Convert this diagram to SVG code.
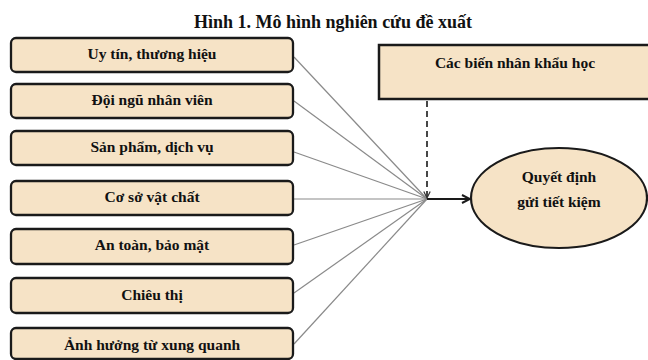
<svg xmlns="http://www.w3.org/2000/svg" width="648" height="360" viewBox="0 0 648 360">
<style>
text{font-family:"Liberation Serif","Times New Roman",serif;font-weight:bold;fill:#111;text-anchor:middle}
.title{font-size:18px}
.lbl{font-size:15.5px}
.box{fill:#F6E3C6;stroke:#1a1a1a;stroke-width:2.3}
.ln{stroke:#8a8a8a;stroke-width:1.2;fill:none}
</style>
<defs>
<marker id="arr" viewBox="0 0 10 10" refX="9" refY="5" markerWidth="10" markerHeight="10" markerUnits="userSpaceOnUse" orient="auto">
<path d="M1,1 L9,5 L1,9" fill="none" stroke="#1a1a1a" stroke-width="2"/>
</marker>
<marker id="arrd" viewBox="0 0 10 10" refX="9" refY="5" markerWidth="8" markerHeight="8" markerUnits="userSpaceOnUse" orient="auto">
<path d="M1,1 L9,5 L1,9" fill="none" stroke="#333" stroke-width="1.5"/>
</marker>
</defs>
<text class="title" x="333" y="28">Hình 1. Mô hình nghiên cứu đề xuất</text>
<g id="connectors">
<line class="ln" x1="294" y1="57" x2="427" y2="199"/>
<line class="ln" x1="294" y1="101" x2="427" y2="199"/>
<line class="ln" x1="294" y1="152" x2="427" y2="199"/>
<line class="ln" x1="294" y1="199" x2="427" y2="199"/>
<line class="ln" x1="294" y1="245" x2="427" y2="199"/>
<line class="ln" x1="294" y1="293" x2="427" y2="199"/>
<line class="ln" x1="294" y1="344" x2="427" y2="199"/>
<line x1="427" y1="101" x2="427" y2="198" stroke="#333" stroke-width="1.8" stroke-dasharray="6,4" marker-end="url(#arrd)"/>
<line x1="427" y1="199" x2="470" y2="199" stroke="#1a1a1a" stroke-width="2" marker-end="url(#arr)"/>
</g>
<g id="n1"><rect class="box" x="11" y="38" width="282" height="34" rx="5"/><text class="lbl" x="152" y="59">Uy tín, thương hiệu</text></g>
<g id="n2"><rect class="box" x="11" y="84" width="282" height="34" rx="5"/><text class="lbl" x="152" y="105">Đội ngũ nhân viên</text></g>
<g id="n3"><rect class="box" x="11" y="131" width="282" height="34" rx="5"/><text class="lbl" x="152" y="152">Sản phẩm, dịch vụ</text></g>
<g id="n4"><rect class="box" x="11" y="181" width="282" height="34" rx="5"/><text class="lbl" x="152" y="202">Cơ sở vật chất</text></g>
<g id="n5"><rect class="box" x="11" y="229" width="282" height="35" rx="5"/><text class="lbl" x="152" y="250">An toàn, bảo mật</text></g>
<g id="n6"><rect class="box" x="11" y="278" width="282" height="35" rx="5"/><text class="lbl" x="152" y="300">Chiêu thị</text></g>
<g id="n7"><rect class="box" x="11" y="328" width="282" height="31" rx="5"/><text class="lbl" x="152" y="350">Ảnh hưởng từ xung quanh</text></g>
<g id="n8"><rect x="379" y="45" width="275" height="54" fill="#F6E3C6" stroke="#1a1a1a" stroke-width="2.5"/><text class="lbl" x="515" y="68">Các biến nhân khẩu học</text></g>
<g id="n9"><ellipse cx="559" cy="198" rx="88" ry="50" fill="#F6E3C6" stroke="#1a1a1a" stroke-width="2.2"/><text class="lbl" x="559" y="182">Quyết định</text><text class="lbl" x="559" y="207">gửi tiết kiệm</text></g>
</svg>
